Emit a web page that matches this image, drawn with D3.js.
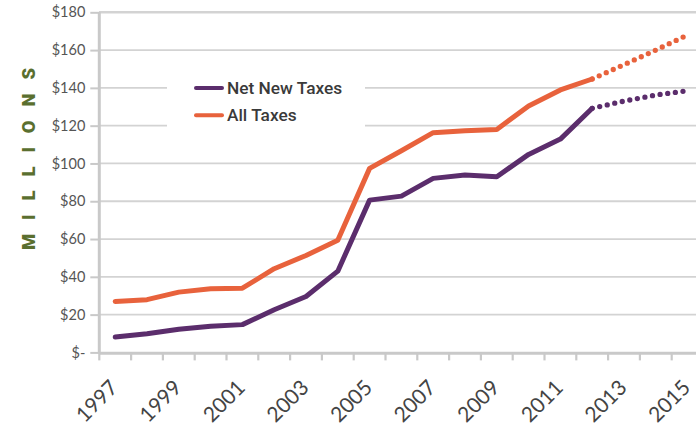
<!DOCTYPE html>
<html><head><meta charset="utf-8">
<script src="https://cdn.jsdelivr.net/npm/d3@7"></script>
<style>
html,body{margin:0;padding:0;background:#fff;}
svg{display:block;}
</style></head>
<body>
<svg id="chart" width="696" height="427"></svg>
<script>
const years = [1997,1998,1999,2000,2001,2002,2003,2004,2005,2006,2007,2008,2009,2010,2011,2012,2013,2014,2015];
const netNewTaxes = [8.1,9.9,12.2,13.8,14.7,22.6,29.6,43,80.6,82.7,92.1,93.9,93,104.8,112.9,129.2,133,136.2,138.5];
const allTaxes = [27,27.9,31.9,33.7,34,44.3,51.3,59.3,97.4,106.7,116.3,117.3,118,130.4,138.9,144.7,152.3,160,168];
const lastActualYear = 2012;
const yTicks = [0,20,40,60,80,100,120,140,160,180];
const xLabelYears = [1997,1999,2001,2003,2005,2007,2009,2011,2013,2015];
const seriesNames = ["Net New Taxes","All Taxes"];
const seriesColors = ["#5b2d6c","#e8623c"];

const svg = d3.select("#chart");
const x = d3.scaleBand().domain(years).range([99.3, 99.3 + 19*31.8]).padding(0);
const cx = d => x(d) + x.bandwidth()/2;
const y = d3.scaleLinear().domain([0,180]).range([352.4, 12.3]);

// gridlines
svg.append("g").selectAll("line").data(yTicks.filter(v=>v>0)).join("line")
  .attr("x1", 99).attr("x2", 700)
  .attr("y1", d=>y(d)).attr("y2", d=>y(d))
  .attr("stroke", "#d3d3d3").attr("stroke-width", d => d===180 ? 2.5 : 1.8);

// y axis
const yAxis = d3.axisLeft(y).tickValues(yTicks).tickSize(9).tickPadding(5)
  .tickFormat(d => d===0 ? "$-" : "$" + d);
const gy = svg.append("g").attr("transform","translate(99.3,0)").call(yAxis);
gy.select(".domain").attr("stroke","#c9c9c9").attr("stroke-width",3).attr("d","M0,12.3V354");
gy.selectAll(".tick line").attr("stroke","#c9c9c9").attr("stroke-width",2);
gy.selectAll(".tick text").attr("fill","#555").style("font-family","Lato, sans-serif").style("font-size","14.5px");

// x axis
svg.append("line").attr("x1",99.3).attr("x2",700).attr("y1",y(0)+0.8).attr("y2",y(0)+0.8)
  .attr("stroke","#c9c9c9").attr("stroke-width",3);
svg.append("g").selectAll("line").data(years).join("line")
  .attr("x1", d=>x(d)).attr("x2", d=>x(d))
  .attr("y1", y(0)).attr("y2", y(0)+8)
  .attr("stroke","#c9c9c9").attr("stroke-width",2.2);
svg.append("g").selectAll("text").data(xLabelYears).join("text")
  .attr("transform", d=>`translate(${cx(d)+4},389) rotate(-45)`)
  .attr("text-anchor","end")
  .attr("fill","#444")
  .style("font-family","Lato, sans-serif").style("font-size","21px")
  .text(d=>d);

// y title
svg.append("text")
  .attr("transform","translate(34.5,159) rotate(-90)")
  .attr("text-anchor","middle")
  .attr("textLength",182).attr("lengthAdjust","spacing")
  .attr("fill","#5a6f2f")
  .style("font-family","Roboto, sans-serif").style("font-weight","900").style("font-size","18.5px")
  .text("MILLIONS");

// legend background
svg.append("rect").attr("x",167).attr("y",62).attr("width",198).attr("height",78).attr("fill","#fff");

// series
const seriesData = [netNewTaxes, allTaxes];
const line = d3.line().x(d=>cx(d.year)).y(d=>y(d.value));
seriesData.forEach((vals,i) => {
  const pts = years.map((yr,j)=>({year:yr, value:vals[j]}));
  const actual = pts.filter(p=>p.year<=lastActualYear);
  const proj = pts.filter(p=>p.year>=lastActualYear);
  svg.append("path").datum(proj).attr("d",line)
    .attr("fill","none").attr("stroke",seriesColors[i]).attr("stroke-width",5.3)
    .attr("stroke-linecap","round").attr("stroke-dasharray","0,7.7");
  svg.append("path").datum(actual).attr("d",line)
    .attr("fill","none").attr("stroke",seriesColors[i]).attr("stroke-width",5)
    .attr("stroke-linejoin","round").attr("stroke-linecap","round");
});

// legend
const lg = svg.append("g");
seriesNames.forEach((name,i)=>{
  const ly = 88 + i*27.3;
  lg.append("line").attr("x1",196).attr("x2",222).attr("y1",ly).attr("y2",ly)
    .attr("stroke",seriesColors[i]).attr("stroke-width",4).attr("stroke-linecap","round");
  lg.append("text").attr("x",227).attr("y",ly+6)
    .attr("fill","#3a3a3a")
    .style("font-family","Roboto, sans-serif").style("font-weight","500").style("font-size","17.3px")
    .text(name);
});
</script>
</body></html>
